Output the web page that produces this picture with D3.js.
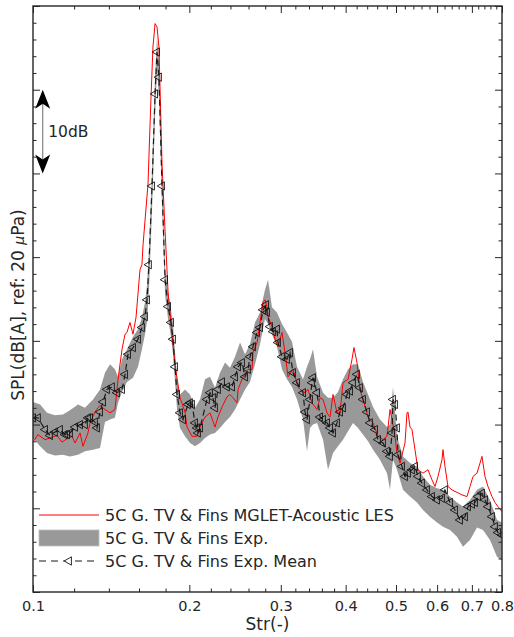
<!DOCTYPE html>
<html><head><meta charset="utf-8">
<script src="https://cdn.jsdelivr.net/npm/d3@7"></script>
<style>body{margin:0;background:#fff;} svg{display:block;}</style>
</head><body><svg id="c" width="514" height="637"></svg>
<script>
// ---------- data ----------
const xMajorTicks = [0.1,0.2,0.3,0.4,0.5,0.6,0.7,0.8];
const xTickLabels = ["0.1","0.2","0.3","0.4","0.5","0.6","0.7","0.8"];
const xMinorTicks = [0.12,0.14,0.16,0.18,0.22,0.24,0.26,0.28,0.32,0.34,0.36,0.38,0.42,0.44,0.46,0.48,0.52,0.54,0.56,0.58,0.62,0.64,0.66,0.68,0.72,0.74,0.76,0.78];
const yMajorTicks = [0,10,20,30,40,50,60,70];
const yMinorTicks = [2,4,6,8,12,14,16,18,22,24,26,28,32,34,36,38,42,44,46,48,52,54,56,58,62,64,66,68];
const legendLabels = ["5C G. TV & Fins MGLET-Acoustic LES","5C G. TV & Fins Exp.","5C G. TV & Fins Exp. Mean"];
const annotation = {str:0.1044, from:60, to:50, label:"10dB"};

// [Str, dB] mean of experiment
const meanCurve = [
[0.1000,20.8],[0.1022,20.8],[0.1055,19.4],[0.1078,18.7],[0.1102,19.1],[0.1127,19.4],[0.1152,18.8],[0.1163,18.8],
[0.1178,19.0],[0.1205,19.7],[0.1232,20.0],[0.1259,20.0],[0.1276,20.8],[0.1288,20.8],[0.1316,20.3],[0.1328,19.6],
[0.1346,21.5],[0.1364,22.7],[0.1388,24.2],[0.1419,24.5],[0.1451,23.8],[0.1484,24.2],[0.1504,26.0],[0.1524,28.4],
[0.1558,29.2],[0.1593,30.2],[0.1621,31.6],[0.1643,32.9],[0.1658,34.9],[0.1672,39.1],[0.1695,48.5],[0.1718,59.5],
[0.1733,64.5],[0.1748,61.5],[0.1772,48.5],[0.1796,37.3],[0.1820,34.1],[0.1844,32.2],[0.1860,30.2],[0.1877,26.9],
[0.1894,23.6],[0.1919,21.4],[0.1945,20.6],[0.1988,22.4],[0.2006,22.6],[0.2024,22.4],[0.2051,20.2],[0.2069,19.6],
[0.2078,19.0],[0.2097,19.6],[0.2163,23.0],[0.2192,23.8],[0.2221,23.2],[0.2241,22.0],[0.2271,24.2],[0.2312,25.1],
[0.2363,24.5],[0.2417,24.5],[0.2449,25.7],[0.2482,26.9],[0.2526,27.4],[0.2560,25.7],[0.2594,26.6],[0.2617,28.1],
[0.2652,29.3],[0.2700,31.0],[0.2736,31.6],[0.2773,33.7],[0.2810,34.3],[0.2822,33.4],[0.2860,31.7],[0.2898,31.1],
[0.2950,31.4],[0.2963,29.8],[0.3016,28.1],[0.3084,27.8],[0.3125,28.6],[0.3167,26.2],[0.3224,25.0],[0.3311,23.8],
[0.3340,21.5],[0.3370,20.6],[0.3415,23.0],[0.3445,25.0],[0.3461,25.6],[0.3523,23.8],[0.3570,20.9],[0.3618,20.6],
[0.3683,20.2],[0.3732,19.6],[0.3782,19.0],[0.3849,20.2],[0.3901,21.5],[0.3953,22.0],[0.4024,23.6],[0.4078,24.0],
[0.4132,25.0],[0.4206,26.0],[0.4262,24.4],[0.4319,23.0],[0.4397,21.5],[0.4455,20.2],[0.4556,19.4],[0.4617,18.2],
[0.4720,17.8],[0.4805,16.8],[0.4869,16.2],[0.4913,19.0],[0.4934,23.0],[0.4978,22.4],[0.5022,19.6],[0.5044,16.4],
[0.5135,15.0],[0.5204,13.8],[0.5273,14.2],[0.5367,14.6],[0.5439,15.0],[0.5512,13.8],[0.5610,13.0],[0.5736,12.2],
[0.5865,11.4],[0.5997,11.0],[0.6131,11.2],[0.6213,12.2],[0.6353,10.7],[0.6495,9.8],[0.6641,8.6],[0.6790,9.0],
[0.6881,10.2],[0.7004,10.5],[0.7098,10.7],[0.7193,11.4],[0.7321,11.8],[0.7419,11.0],[0.7518,10.2],[0.7652,9.0],
[0.7755,7.8],[0.7858,7.1],[0.8000,6.8]
];

// [Str, lower dB, upper dB] experimental spread
const bandCurve = [
[0.1000,18.4,22.7],[0.1032,17.4,22.4],[0.1064,16.6,21.4],[0.1102,16.3,21.1],[0.1142,16.4,21.2],[0.1178,16.2,21.7],
[0.1221,16.4,22.4],[0.1259,16.8,22.0],[0.1305,17.0,23.0],[0.1346,17.2,24.2],[0.1376,20.3,26.2],[0.1407,20.6,27.2],
[0.1438,20.8,26.6],[0.1458,22.6,25.7],[0.1484,23.9,27.8],[0.1517,25.1,29.0],[0.1558,25.6,30.5],[0.1593,26.9,31.4],
[0.1621,29.0,32.8],[0.1643,30.8,34.6],[0.1658,32.3,36.7],[0.1672,35.9,40.7],[0.1695,45.5,50.3],[0.1718,56.7,61.5],
[0.1733,62.5,66.3],[0.1748,59.1,63.4],[0.1772,46.3,50.3],[0.1796,35.5,38.8],[0.1820,32.6,35.8],[0.1844,30.5,33.7],
[0.1860,28.4,32.0],[0.1877,25.1,28.7],[0.1894,21.8,25.4],[0.1919,19.6,23.6],[0.1962,18.6,24.2],[0.2006,17.8,23.6],
[0.2051,17.4,22.0],[0.2097,17.8,23.0],[0.2144,18.4,25.4],[0.2192,18.8,25.7],[0.2241,19.0,24.4],[0.2291,19.6,26.2],
[0.2343,20.3,27.4],[0.2395,20.9,26.8],[0.2449,21.8,28.1],[0.2504,23.0,29.8],[0.2560,24.2,28.4],[0.2617,25.1,29.6],
[0.2676,27.2,32.2],[0.2736,29.6,33.4],[0.2797,32.6,36.1],[0.2835,32.0,37.3],[0.2885,30.8,34.0],[0.2950,29.3,33.4],
[0.3016,26.6,32.0],[0.3084,25.4,31.0],[0.3153,24.5,29.9],[0.3224,23.0,26.9],[0.3311,20.6,25.4],[0.3370,16.8,26.9],
[0.3415,19.6,27.8],[0.3461,20.0,29.0],[0.3523,20.2,25.7],[0.3618,18.2,23.8],[0.3699,14.6,23.2],[0.3782,16.6,23.2],
[0.3866,17.4,23.9],[0.3953,18.2,25.4],[0.4042,19.2,26.6],[0.4132,20.2,27.2],[0.4225,19.6,27.2],[0.4319,18.8,25.1],
[0.4417,18.0,23.6],[0.4516,17.0,22.1],[0.4658,15.8,20.6],[0.4805,14.2,19.7],[0.4869,12.2,20.0],[0.4934,15.8,24.5],
[0.5022,14.6,18.6],[0.5158,12.2,16.2],[0.5320,11.4,15.4],[0.5488,10.7,15.0],[0.5636,9.8,13.8],[0.5813,9.0,12.8],
[0.5997,8.3,12.4],[0.6159,7.8,12.2],[0.6353,7.4,11.4],[0.6553,6.6,10.7],[0.6730,5.4,10.2],[0.6942,6.2,11.0],
[0.7161,7.7,12.2],[0.7354,7.4,12.6],[0.7585,6.2,11.0],[0.7825,4.2,8.6],[0.8000,3.8,8.3]
];

// [Str, dB] MGLET-Acoustic LES
const lesCurve = [
[0.1000,17.9],[0.1022,18.8],[0.1055,18.2],[0.1078,18.4],[0.1112,18.7],[0.1137,17.9],[0.1168,18.4],[0.1189,18.6],
[0.1205,17.8],[0.1232,19.0],[0.1248,17.4],[0.1276,19.0],[0.1288,20.2],[0.1316,21.5],[0.1346,22.3],[0.1376,21.8],
[0.1407,21.4],[0.1438,21.8],[0.1458,25.4],[0.1484,29.0],[0.1504,30.8],[0.1517,31.0],[0.1537,32.2],[0.1558,30.8],
[0.1579,32.8],[0.1607,38.5],[0.1621,39.1],[0.1629,41.5],[0.1665,48.7],[0.1687,58.9],[0.1702,65.1],[0.1718,67.9],
[0.1733,67.5],[0.1748,65.1],[0.1772,51.1],[0.1796,43.1],[0.1820,35.9],[0.1852,30.8],[0.1877,27.2],[0.1919,23.2],
[0.1962,21.5],[0.1980,19.7],[0.2024,18.6],[0.2069,18.6],[0.2097,19.7],[0.2144,20.9],[0.2192,21.4],[0.2241,19.7],
[0.2271,20.9],[0.2312,22.1],[0.2363,23.3],[0.2395,23.6],[0.2427,23.2],[0.2471,22.6],[0.2482,24.2],[0.2537,25.7],
[0.2594,26.6],[0.2641,26.6],[0.2652,28.6],[0.2700,29.8],[0.2736,32.2],[0.2773,34.6],[0.2797,34.9],[0.2822,34.1],
[0.2835,32.9],[0.2885,31.7],[0.2924,30.2],[0.2963,29.3],[0.3016,31.0],[0.3057,28.6],[0.3098,25.7],[0.3167,26.6],
[0.3238,24.5],[0.3267,24.2],[0.3340,23.8],[0.3385,24.2],[0.3445,22.6],[0.3523,21.8],[0.3570,23.2],[0.3618,23.0],
[0.3683,21.4],[0.3732,20.9],[0.3782,23.6],[0.3849,21.4],[0.3901,21.4],[0.3953,25.0],[0.4042,25.4],[0.4114,27.8],
[0.4150,29.2],[0.4206,27.4],[0.4262,24.2],[0.4319,23.0],[0.4417,20.9],[0.4516,20.2],[0.4617,18.6],[0.4720,18.2],
[0.4805,18.6],[0.4869,21.8],[0.4913,20.6],[0.4978,18.6],[0.5022,16.6],[0.5090,15.4],[0.5204,17.8],[0.5250,21.4],
[0.5273,21.5],[0.5320,19.7],[0.5367,19.4],[0.5439,17.0],[0.5512,14.6],[0.5636,14.2],[0.5762,14.6],[0.5865,13.4],
[0.5944,12.6],[0.6023,13.8],[0.6131,15.8],[0.6159,17.0],[0.6213,15.0],[0.6296,12.6],[0.6409,12.2],[0.6553,11.9],
[0.6700,11.6],[0.6850,11.4],[0.6942,12.6],[0.7035,13.8],[0.7161,14.2],[0.7257,15.4],[0.7321,16.2],[0.7419,13.8],
[0.7518,12.6],[0.7652,11.4],[0.7755,10.7],[0.7858,10.2],[0.8000,9.6]
];

// ---------- drawing ----------
const FONT = '"DejaVu Sans", "Liberation Sans", sans-serif';
const AX = '#262626';
const m = {left:33, right:502, top:6, bottom:592};
const x = d3.scaleLog().domain([0.1,0.8]).range([m.left,m.right]);
const y = d3.scaleLinear().domain([0,70]).range([m.bottom,m.top]);
const svg = d3.select('#c');

svg.append('clipPath').attr('id','clip').append('rect')
  .attr('x',m.left).attr('y',m.top).attr('width',m.right-m.left).attr('height',m.bottom-m.top);
const plot = svg.append('g').attr('clip-path','url(#clip)');

plot.append('path').datum(bandCurve)
  .attr('d', d3.area().x(d=>x(d[0])).y0(d=>y(d[1])).y1(d=>y(d[2])))
  .attr('fill','#999999');

plot.append('path').datum(lesCurve)
  .attr('d', d3.line().x(d=>x(d[0])).y(d=>y(d[1])))
  .attr('fill','none').attr('stroke','#ff0000').attr('stroke-width',1);

plot.append('path').datum(meanCurve)
  .attr('d', d3.line().x(d=>x(d[0])).y(d=>y(d[1])))
  .attr('fill','none').attr('stroke','#1a1a1a').attr('stroke-width',1.2).attr('stroke-dasharray','6,4');

const tri = d3.symbol().type(d3.symbolTriangle).size(30)();
plot.selectAll('path.mk').data(meanCurve).join('path').attr('class','mk')
  .attr('transform', d=>`translate(${x(d[0])},${y(d[1])}) rotate(-90)`)
  .attr('d', tri).attr('fill','none').attr('stroke','#111').attr('stroke-width',0.9);

// axes
function style(g){
  g.select('.domain').remove();
  g.selectAll('line').attr('stroke',AX).attr('stroke-width',1);
  g.selectAll('text').attr('fill',AX).style('font-family',FONT).style('font-size','14.5px');
}
const fmt = d => xTickLabels[xMajorTicks.indexOf(d)];
svg.append('g').attr('transform',`translate(0,${m.bottom})`)
  .call(d3.axisBottom(x).tickValues(xMajorTicks).tickFormat(fmt).tickSizeInner(-7).tickSizeOuter(0).tickPadding(9)).call(style);
svg.append('g').attr('transform',`translate(0,${m.bottom})`)
  .call(d3.axisBottom(x).tickValues(xMinorTicks).tickFormat('').tickSizeInner(-3.5).tickSizeOuter(0)).call(style);
svg.append('g').attr('transform',`translate(0,${m.top})`)
  .call(d3.axisTop(x).tickValues(xMajorTicks).tickFormat('').tickSizeInner(-7).tickSizeOuter(0)).call(style);
svg.append('g').attr('transform',`translate(0,${m.top})`)
  .call(d3.axisTop(x).tickValues(xMinorTicks).tickFormat('').tickSizeInner(-3.5).tickSizeOuter(0)).call(style);
svg.append('g').attr('transform',`translate(${m.left},0)`)
  .call(d3.axisLeft(y).tickValues(yMajorTicks).tickFormat('').tickSizeInner(-7).tickSizeOuter(0)).call(style);
svg.append('g').attr('transform',`translate(${m.left},0)`)
  .call(d3.axisLeft(y).tickValues(yMinorTicks).tickFormat('').tickSizeInner(-3.5).tickSizeOuter(0)).call(style);
svg.append('g').attr('transform',`translate(${m.right},0)`)
  .call(d3.axisRight(y).tickValues(yMajorTicks).tickFormat('').tickSizeInner(-7).tickSizeOuter(0)).call(style);
svg.append('g').attr('transform',`translate(${m.right},0)`)
  .call(d3.axisRight(y).tickValues(yMinorTicks).tickFormat('').tickSizeInner(-3.5).tickSizeOuter(0)).call(style);

svg.append('rect').attr('x',m.left).attr('y',m.top).attr('width',m.right-m.left).attr('height',m.bottom-m.top)
  .attr('fill','none').attr('stroke',AX).attr('stroke-width',1.4);

// axis labels
svg.append('text').attr('x',(m.left+m.right)/2).attr('y',630).attr('text-anchor','middle')
  .attr('fill',AX).style('font-family',FONT).style('font-size','17px').text('Str(-)');
const yl = svg.append('text').attr('transform',`translate(24,${(m.top+m.bottom)/2 + 6}) rotate(-90)`)
  .attr('text-anchor','middle').attr('fill',AX).style('font-family',FONT).style('font-size','17px');
yl.append('tspan').text('SPL(dB[A], ref: 20 ');
yl.append('tspan').style('font-style','italic').style('font-size','14px').text('μ');
yl.append('tspan').text('Pa)');

// 10 dB annotation
const ax0 = x(annotation.str), yTop = y(annotation.from), yBot = y(annotation.to);
svg.append('line').attr('x1',ax0).attr('x2',ax0).attr('y1',yTop+12).attr('y2',yBot-12)
  .attr('stroke','#808080').attr('stroke-width',1.2);
function head(tipY, dir){ // dir=+1 points up (body below), -1 points down
  const L=19, N=14, hw=7.5;
  return `M${ax0},${tipY} L${ax0+hw},${tipY+dir*L} L${ax0},${tipY+dir*N} L${ax0-hw},${tipY+dir*L} Z`;
}
svg.append('path').attr('d', head(yTop, 1)).attr('fill','#000');
svg.append('path').attr('d', head(yBot, -1)).attr('fill','#000');
svg.append('text').attr('x',ax0+5.5).attr('y',(yTop+yBot)/2+5.5).attr('fill',AX)
  .style('font-family',FONT).style('font-size','15.5px').text(annotation.label);

// legend
const lg = svg.append('g');
const lx0 = 39, lx1 = 99, ltx = 105, rows = [515, 538, 561];
lg.append('line').attr('x1',lx0).attr('x2',lx1).attr('y1',rows[0]).attr('y2',rows[0]).attr('stroke','#ff0000').attr('stroke-width',1);
lg.append('rect').attr('x',lx0).attr('y',rows[1]-8).attr('width',lx1-lx0).attr('height',16).attr('fill','#999999').attr('stroke','#bdbdbd').attr('stroke-width',0.8);
lg.append('line').attr('x1',lx0).attr('x2',lx1).attr('y1',rows[2]).attr('y2',rows[2]).attr('stroke','#1a1a1a').attr('stroke-width',1.2).attr('stroke-dasharray','7,5');
lg.append('path').attr('transform',`translate(${(lx0+lx1)/2},${rows[2]}) rotate(-90)`).attr('d',tri).attr('fill','#fff').attr('stroke','#111').attr('stroke-width',0.9);
lg.selectAll('text.lt').data(legendLabels).join('text').attr('class','lt')
  .attr('x',ltx).attr('y',(d,i)=>rows[i]+5.5).attr('fill',AX)
  .style('font-family',FONT).style('font-size','16px').text(d=>d);
</script></body></html>
